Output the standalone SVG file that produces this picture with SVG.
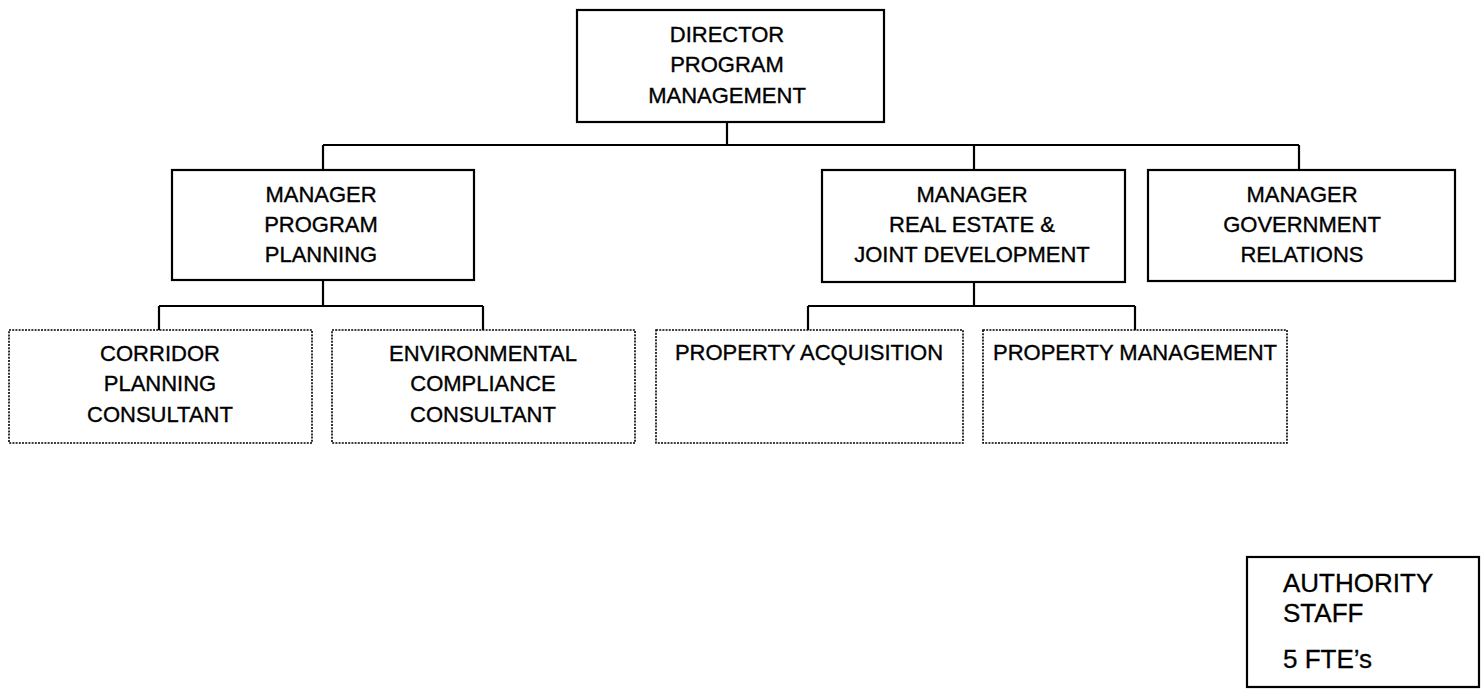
<svg xmlns="http://www.w3.org/2000/svg" width="1483" height="697" viewBox="0 0 1483 697">
<style>
.box{fill:#fff;stroke:#000;stroke-width:2.2}
.dot{fill:#fff;stroke:#000;stroke-width:1.6;stroke-dasharray:2 1.2}
.t{font-family:"Liberation Sans",Arial,sans-serif;font-size:22px;fill:#000;stroke:#000;stroke-width:0.35;text-anchor:middle}
.s{font-family:"Liberation Sans",Arial,sans-serif;font-size:26px;fill:#000;stroke:#000;stroke-width:0.3}
.c{fill:none;stroke:#000;stroke-width:2.2}
</style>
<rect width="1483" height="697" fill="#fff"/>
<g id="connectors">
<path class="c" d="M727 122V145M323 145H1299M323 145V170M974 145V170M1299 145V170"/>
<path class="c" d="M323 280V306M159 306H483M159 306V330M483 306V330"/>
<path class="c" d="M974 282V306M808 306H1135M808 306V330M1135 306V330"/>
</g>
<g id="director">
<rect class="box" x="577" y="10" width="307" height="112"/>
<text class="t" x="727" y="42">DIRECTOR</text>
<text class="t" x="727" y="72">PROGRAM</text>
<text class="t" x="727" y="103">MANAGEMENT</text>
</g>
<g id="mgr-program-planning">
<rect class="box" x="172" y="170" width="302" height="110"/>
<text class="t" x="321" y="202">MANAGER</text>
<text class="t" x="321" y="232">PROGRAM</text>
<text class="t" x="321" y="262">PLANNING</text>
</g>
<g id="mgr-real-estate">
<rect class="box" x="822" y="170" width="303" height="112"/>
<text class="t" x="972" y="202">MANAGER</text>
<text class="t" x="972" y="232">REAL ESTATE &amp;</text>
<text class="t" x="972" y="262">JOINT DEVELOPMENT</text>
</g>
<g id="mgr-government">
<rect class="box" x="1148" y="170" width="307" height="111"/>
<text class="t" x="1302" y="202">MANAGER</text>
<text class="t" x="1302" y="232">GOVERNMENT</text>
<text class="t" x="1302" y="262">RELATIONS</text>
</g>
<g id="corridor">
<rect class="dot" x="9" y="330" width="303" height="113"/>
<text class="t" x="160" y="361">CORRIDOR</text>
<text class="t" x="160" y="391">PLANNING</text>
<text class="t" x="160" y="422">CONSULTANT</text>
</g>
<g id="environmental">
<rect class="dot" x="332" y="330" width="303" height="113"/>
<text class="t" x="483" y="361">ENVIRONMENTAL</text>
<text class="t" x="483" y="391">COMPLIANCE</text>
<text class="t" x="483" y="422">CONSULTANT</text>
</g>
<g id="property-acquisition">
<rect class="dot" x="656" y="330" width="307" height="113"/>
<text class="t" x="809" y="360">PROPERTY ACQUISITION</text>
</g>
<g id="property-management">
<rect class="dot" x="983" y="330" width="304" height="113"/>
<text class="t" x="1135" y="360">PROPERTY MANAGEMENT</text>
</g>
<g id="authority-staff">
<rect class="box" x="1247" y="557" width="232" height="130"/>
<text class="s" x="1283" y="592">AUTHORITY</text>
<text class="s" x="1283" y="622">STAFF</text>
<text class="s" x="1283" y="668">5 FTE’s</text>
</g>
</svg>
